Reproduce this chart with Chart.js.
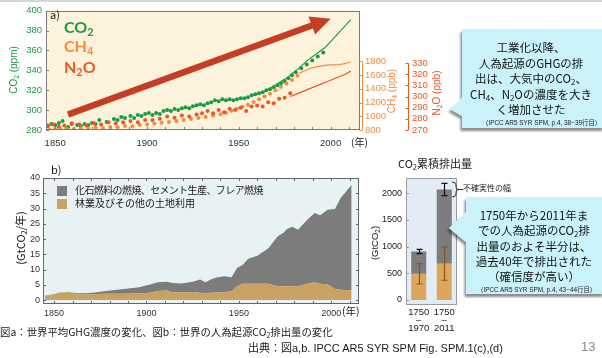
<!DOCTYPE html>
<html lang="ja">
<head>
<meta charset="utf-8">
<script src="https://cdn.jsdelivr.net/npm/chart.js@4.4.1/dist/chart.umd.min.js"></script>
<style>
  html, body { margin: 0; padding: 0; }
  body { width: 602px; height: 358px; position: relative; overflow: hidden; background: #fff;
         font-family: 'Noto Sans CJK JP', 'Liberation Sans', sans-serif; color: #1a1a1a; }
  canvas, svg, .t { position: absolute; }
  .t { white-space: nowrap; line-height: 1; }
  .rot { transform: translate(-50%, -50%) rotate(-90deg); }
  sub { font-size: 68%; vertical-align: -0.3em; line-height: 0; }
  .num { font-family: 'Liberation Sans', sans-serif; }
  .sq { position: absolute; width: 10px; height: 10px; }
  .call { position: absolute; text-align: center; font-size: 11.5px; color: #111; }
  .src { font-size: 6.4px; font-family: 'Liberation Sans', 'Noto Sans CJK JP', sans-serif; }
</style>
</head>
<body>
<div style="position:absolute;left:0;top:0;width:602px;height:2px;background:#d6d6d6"></div>

<canvas id="chartA" width="450" height="152" style="left:0;top:0"></canvas>
<canvas id="chartB" width="365" height="162" style="left:0;top:160px"></canvas>
<canvas id="chartC" width="100" height="190" style="left:360px;top:150px"></canvas>

<svg width="602" height="358" style="left:0;top:0">
  <defs>
    <filter id="sh" x="-20%" y="-20%" width="140%" height="150%">
      <feDropShadow dx="-1.5" dy="3" stdDeviation="1.2" flood-color="#000" flood-opacity="0.45"/>
    </filter>
  </defs>
  <path d="M462,29 H604 V128 H462 V116 L450,109 L462,98 Z" fill="#c9f3f9" filter="url(#sh)"/>
  <path d="M466,197 H604 V294 H466 V242 L449,228 L466,212 Z" fill="#c9f3f9" filter="url(#sh)"/>
  <path d="M452,182 Q456,182 456,185 L456,187 Q456,189.5 459,189.5 Q456,189.5 456,192 L456,194 Q456,197 452,197 M459,189.5 H463"
        fill="none" stroke="#222" stroke-width="0.9"/>
</svg>

<!-- panel a texts -->
<div class="t" style="left:50px;top:9px;font-size:11px">a)</div>
<div class="t" style="left:64px;top:17px;font:bold 16px Lato, sans-serif;color:#1a9b45">CO<sub>2</sub></div>
<div class="t" style="left:64px;top:36px;font:bold 16px Lato, sans-serif;color:#f68b3d">CH<sub>4</sub></div>
<div class="t" style="left:64px;top:57px;font:bold 16px Lato, sans-serif;color:#ee5722">N<sub>2</sub>O</div>
<div class="t rot num" style="left:14px;top:70px;font-size:10px;color:#1a9b45">CO<sub>2</sub> (ppm)</div>
<div class="t rot num" style="left:392px;top:91px;font-size:10px;color:#f68b3d">CH<sub>4</sub> (ppb)</div>
<div class="t rot num" style="left:437px;top:93px;font-size:10px;color:#ee5722">N<sub>2</sub>O (ppb)</div>
<div class="t" style="left:351px;top:137px;font-size:10px">(年)</div>

<!-- panel b texts -->
<div class="t" style="left:51px;top:164px;font-size:11px">b)</div>
<div class="sq" style="left:57px;top:186px;background:#7b7c7b"></div>
<div class="t" style="left:75px;top:185px;font-size:10px;letter-spacing:-0.6px">化石燃料の燃焼、セメント生産、フレア燃焼</div>
<div class="sq" style="left:57px;top:199px;background:#c9a261"></div>
<div class="t" style="left:75px;top:198px;font-size:10px">林業及びその他の土地利用</div>
<div class="t rot" style="left:20px;top:238px;font-size:11px">(GtCO<sub>2</sub>/年)</div>
<div class="t" style="left:342px;top:306px;font-size:10.5px">(年)</div>

<!-- panel c texts -->
<div class="t" style="left:398px;top:158px;font-size:11px">CO<sub>2</sub>累積排出量</div>
<div class="t rot num" style="left:375px;top:243px;font-size:9.5px">(GtCO<sub>2</sub>)</div>
<div class="t" style="left:463px;top:184px;font-size:8px">不確実性の幅</div>

<!-- callouts -->
<div class="call" style="left:462px;width:138px;top:40px;line-height:15.6px">
  工業化以降、<br>人為起源のGHGの排<br>出は、大気中のCO<sub>2</sub>、<br>CH<sub>4</sub>、N<sub>2</sub>Oの濃度を大き<br>く増加させた
</div>
<div class="t src" style="left:482px;top:120px">（IPCC AR5 SYR SPM, p.4, 38−39行目）</div>
<div class="call" style="left:466px;width:136px;top:208px;line-height:15.3px">
  1750年から2011年ま<br>での人為起源のCO<sub>2</sub>排<br>出量のおよそ半分は、<br>過去40年で排出された<br>（確信度が高い）
</div>
<div class="t src" style="left:477px;top:287px">（IPCC AR5 SYR SPM, p.4, 43−44行目）</div>

<!-- footer -->
<div class="t" style="left:0;top:327px;font-size:10.4px">図a：世界平均GHG濃度の変化、図b：世界の人為起源CO<sub>2</sub>排出量の変化</div>
<div class="t" style="left:248px;top:343px;font-size:11px;font-family:'Liberation Sans','Noto Sans CJK JP',sans-serif">出典：図a,b. IPCC AR5 SYR SPM Fig. SPM.1(c),(d)</div>
<div class="t" style="left:581px;top:340px;font-size:13px;color:#8c8c8c;font-family:'Liberation Sans',sans-serif">13</div>

<script>
// ---- a) atmospheric concentrations ----
const co2DotYears = [1846,1848,1850,1852,1854,1857,1859,1862,1864,1866,1868,1870,1872,1874,1878,1882,1884,1886,1888,1891,
  1893,1895,1897,1899,1901,1903,1905,1907,1909,1911,1913,1915,1917,1919,1921,1923,1925,1927,1929,1931,
  1933,1935,1937,1939,1941,1943,1945,1947,1949,1951,1953,1955,1957,1959,1961,1963,1965,1967,1969,1971,
  1973,1975,1977,1979,1981,1984,1987,1990,1993,1996];
const co2Dots = [284,286,285,287,289,283,286,285,284,286,285,287,286,290,288,291,290,293,292,294,
  292,295,294,296,297,295,297,296,299,300,299,301,300,302,303,302,304,305,306,305,
  307,308,310,309,311,310,311,310,311,312,312,313,315,316,317,318,320,321,323,325,
  327,329,332,335,338,342,346,350,354,358];
const co2LineYears = [1958,1961,1964,1967,1970,1973,1976,1979,1982,1985,1988,1991,1994,1997,2000,2003,2006,2009,2011];
const co2Line = [315,317,319,322,325,329,332,337,341,346,351,355,359,363,369,375,381,387,391];

const ch4DotYears = [1847,1850,1853,1856,1860,1864,1868,1872,1876,1880,1884,1888,1892,1896,1900,1904,1908,1912,1916,1920,
  1924,1928,1932,1936,1940,1943,1946,1949,1952,1955,1958,1961,1964,1967,1970,1973,1976,1979,1982];
const ch4Dots = [805,815,808,820,812,825,818,835,828,845,840,860,855,872,880,895,905,915,930,945,
  960,975,990,1010,1030,1050,1080,1110,1140,1170,1210,1250,1290,1330,1380,1430,1480,1530,1590];
const ch4LineYears = [1983,1986,1989,1992,1995,1998,2001,2004,2007,2010,2011];
const ch4Line = [1630,1665,1700,1720,1735,1745,1750,1752,1765,1785,1792];

const n2oDotYears = [1846,1849,1852,1855,1859,1863,1867,1871,1875,1879,1883,1887,1891,1895,1899,1903,1907,1911,1915,1919,
  1923,1927,1930,1933,1936,1939,1942,1945,1948,1951,1954,1957,1960,1963,1966,1969,1972,1975,1978];
const n2oDots = [274,275,273,274,276,275,274,276,275,277,276,277,278,277,279,279,280,282,281,283,
  282,284,285,287,285,288,286,289,288,290,287,291,292,291,295,294,298,299,303];
const n2oLineYears = [1978,1981,1984,1987,1990,1993,1996,1999,2002,2005,2008,2011];
const n2oLine = [300,302,304,306,308,310,312,314,316,318,320,323];

// ---- b) annual anthropogenic CO2 emissions (GtCO2/yr) ----
const emisYears = [1845,1850,1853,1858,1862,1867,1872,1878,1884,1889,1896,1902,1906,1911,1914,1919,1925,1929,1932,1935,
  1938,1942,1946,1949,1952,1955,1960,1966,1971,1974,1976,1979,1982,1987,1991,1994,1998,2002,2005,2008,2011];
const landUse = [1.5,1.7,2.4,2.6,1.8,1.8,2.0,2.1,2.1,2.1,2.2,2.4,3.0,3.1,2.5,2.5,2.6,2.4,2.2,2.4,
  2.5,2.6,2.8,4.5,5.3,5.3,5.3,5.3,4.6,4.5,4.5,4.5,4.5,5.3,5.8,5.3,5.2,3.6,3.4,3.3,3.1];
const fossilCO2 = [0.0,0.2,0.1,0.0,0.4,0.4,0.5,0.9,1.3,1.6,2.0,2.7,2.8,2.9,3.1,2.9,3.4,4.3,3.6,4.4,
  4.9,5.2,4.7,6.0,6.2,8.2,9.2,11.7,16.3,17.5,18.8,19.5,18.5,21.0,22.7,22.5,24.4,26.2,30.0,32.3,34.7];

// ---- cumulative CO2 emissions (GtCO2) ----
const periods = [['1750','–','1970'], ['1750','–','2011']];
const cumLand = [490, 680];
const cumFossil = [420, 1390];
const cumTotalErr = [40, 115];
const cumLandErr = [190, 310];

const GREEN = '#1a9b45', ORANGE = '#f68b3d', RED = '#ee5722';
const tickFont = { family: "'Liberation Sans',sans-serif", size: 9.5 };
const smallFont = { family: "'Liberation Sans',sans-serif", size: 9 };
const pts = (xs, ys) => xs.map((x, i) => ({ x: x, y: ys[i] }));
// explicit tick list lo..hi every step
const setTicks = (lo, hi, step) => s => {
  const t = [];
  for (let v = lo; v <= hi + 1e-9; v += step) t.push({ value: v });
  s.ticks = t;
};
const noGrid = { display: false, drawTicks: false };

// plot background, frame and inside tick marks
const framePlugin = {
  id: 'frame',
  beforeDraw(chart, args, o) {
    const { ctx, chartArea: a } = chart;
    ctx.save();
    ctx.fillStyle = o.bg;
    ctx.fillRect(a.left, a.top, a.width, a.height);
    ctx.restore();
  },
  afterDraw(chart, args, o) {
    const { ctx, chartArea: a, scales } = chart;
    const L = 3;
    ctx.save();
    ctx.strokeStyle = o.color;
    ctx.lineWidth = 1;
    ctx.strokeRect(Math.round(a.left) + 0.5, Math.round(a.top) + 0.5, Math.round(a.width) - 1, Math.round(a.height) - 1);
    ctx.beginPath();
    if (o.xMinor) {
      const xs = scales.x;
      for (let v = Math.ceil(xs.min / o.xMinor) * o.xMinor; v <= xs.max; v += o.xMinor) {
        const px = Math.round(xs.getPixelForValue(v)) + 0.5;
        ctx.moveTo(px, a.bottom); ctx.lineTo(px, a.bottom - L);
        if (o.topTicks) { ctx.moveTo(px, a.top); ctx.lineTo(px, a.top + L); }
      }
    }
    if (o.yScale) {
      const ys = scales[o.yScale];
      ys.ticks.forEach(t => {
        const py = Math.round(ys.getPixelForValue(t.value)) + 0.5;
        ctx.moveTo(a.left, py); ctx.lineTo(a.left + L, py);
        if (o.rightTicks) { ctx.moveTo(a.right, py); ctx.lineTo(a.right - L, py); }
      });
    }
    ctx.stroke();
    ctx.restore();
  }
};

// coloured side axes that stop at the last tick
const sideAxisPlugin = {
  id: 'sideAxes',
  afterDraw(chart, args, o) {
    const ctx = chart.ctx;
    o.axes.forEach(ax => {
      const s = chart.scales[ax.id];
      const x = Math.round(s.left + ax.offset) + 0.5;
      const last = s.ticks[s.ticks.length - 1].value;
      ctx.save();
      ctx.strokeStyle = ax.color;
      ctx.lineWidth = 1;
      ctx.beginPath();
      ctx.moveTo(x, s.getPixelForValue(s.min));
      ctx.lineTo(x, s.getPixelForValue(last));
      s.ticks.forEach(t => {
        const py = Math.round(s.getPixelForValue(t.value)) + 0.5;
        ctx.moveTo(x, py); ctx.lineTo(x - 3, py);
      });
      ctx.stroke();
      ctx.restore();
    });
  }
};

// the big trend arrow, given in data units
const arrowPlugin = {
  id: 'arrow',
  beforeDatasetsDraw(chart, args, o) {
    const ctx = chart.ctx, xs = chart.scales.x, ys = chart.scales[o.yAxis];
    const x0 = xs.getPixelForValue(o.from[0]), y0 = ys.getPixelForValue(o.from[1]);
    const x1 = xs.getPixelForValue(o.to[0]), y1 = ys.getPixelForValue(o.to[1]);
    const len = Math.hypot(x1 - x0, y1 - y0);
    const ux = (x1 - x0) / len, uy = (y1 - y0) / len, nx = -uy, ny = ux;
    const sw = o.shaft / 2, hw = o.headWidth / 2;
    const bx = x1 - ux * o.headLength, by = y1 - uy * o.headLength;
    ctx.save();
    ctx.fillStyle = o.color;
    ctx.beginPath();
    ctx.moveTo(x0 + nx * sw, y0 + ny * sw);
    ctx.lineTo(bx + nx * sw, by + ny * sw);
    ctx.lineTo(bx + nx * hw, by + ny * hw);
    ctx.lineTo(x1, y1);
    ctx.lineTo(bx - nx * hw, by - ny * hw);
    ctx.lineTo(bx - nx * sw, by - ny * sw);
    ctx.lineTo(x0 - nx * sw, y0 - ny * sw);
    ctx.closePath();
    ctx.fill();
    ctx.restore();
  }
};

// error bars for the cumulative bars
const errorBarPlugin = {
  id: 'errBars',
  afterDatasetsDraw(chart, args, o) {
    const ctx = chart.ctx, xs = chart.scales.x, ys = chart.scales.y;
    o.sets.forEach(set => {
      ctx.save();
      ctx.strokeStyle = set.color;
      ctx.lineWidth = 1.2;
      set.centers.forEach((c, i) => {
        const x = Math.round(xs.getPixelForValue(i)) + 0.5;
        const top = ys.getPixelForValue(c + set.errors[i]);
        const bot = ys.getPixelForValue(c - set.errors[i]);
        ctx.beginPath();
        ctx.moveTo(x, top); ctx.lineTo(x, bot);
        ctx.moveTo(x - 3, top); ctx.lineTo(x + 3, top);
        ctx.moveTo(x - 3, bot); ctx.lineTo(x + 3, bot);
        ctx.stroke();
      });
      ctx.restore();
    });
  }
};

document.addEventListener('DOMContentLoaded', function() {
  Chart.defaults.font.family = tickFont.family;

  // a) concentrations
  new Chart(document.getElementById('chartA'), {
    type: 'scatter',
    data: {
      datasets: [
        { data: pts(n2oDotYears, n2oDots), yAxisID: 'yN2O', backgroundColor: RED, pointRadius: 2, borderWidth: 0 },
        { type: 'line', data: pts(n2oLineYears, n2oLine), yAxisID: 'yN2O', borderColor: RED, borderWidth: 1.2, pointRadius: 0, fill: false },
        { data: pts(ch4DotYears, ch4Dots), yAxisID: 'yCH4', backgroundColor: ORANGE, pointRadius: 2, borderWidth: 0 },
        { type: 'line', data: pts(ch4LineYears, ch4Line), yAxisID: 'yCH4', borderColor: ORANGE, borderWidth: 1.2, pointRadius: 0, fill: false },
        { data: pts(co2DotYears, co2Dots), yAxisID: 'yCO2', backgroundColor: GREEN, pointRadius: 2, borderWidth: 0 },
        { type: 'line', data: pts(co2LineYears, co2Line), yAxisID: 'yCO2', borderColor: GREEN, borderWidth: 1.1, pointRadius: 0, fill: false }
      ]
    },
    options: {
      responsive: false,
      animation: false,
      layout: { padding: { top: 7 } },
      plugins: {
        legend: { display: false },
        tooltip: { enabled: false },
        frame: { bg: '#fdf3dc', color: '#7a7a7a', xMinor: 10, yScale: 'yCO2' },
        sideAxes: { axes: [{ id: 'yCH4', offset: 2, color: ORANGE }, { id: 'yN2O', offset: 0, color: RED }] },
        arrow: { yAxis: 'yCO2', from: [1857, 295.6], to: [2000, 392], shaft: 6.5, headWidth: 19, headLength: 20, color: '#c53d25' }
      },
      scales: {
        x: {
          type: 'linear', min: 1845, max: 2016,
          afterBuildTicks: setTicks(1850, 2000, 50),
          afterFit: s => { s.height = 22; },
          grid: noGrid, border: { display: false },
          ticks: { padding: 8, color: '#333', font: tickFont, maxRotation: 0, autoSkip: false, callback: v => String(v) }
        },
        yCO2: {
          position: 'left', min: 280, max: 400,
          afterBuildTicks: setTicks(280, 400, 20),
          afterFit: s => { s.width = 46; },
          grid: noGrid, border: { display: false },
          ticks: { padding: 4, color: GREEN, font: tickFont, autoSkip: false, callback: v => String(v) }
        },
        yCH4: {
          position: 'right', weight: 0, min: 800, max: 2540,
          afterBuildTicks: setTicks(800, 1800, 200),
          afterFit: s => { s.width = 48; },
          grid: noGrid, border: { display: false },
          ticks: { padding: 5, color: ORANGE, font: tickFont, autoSkip: false, callback: v => String(v) }
        },
        yN2O: {
          position: 'right', weight: 1, min: 270, max: 377,
          afterBuildTicks: setTicks(270, 330, 10),
          afterFit: s => { s.width = 42; },
          grid: noGrid, border: { display: false },
          ticks: { padding: 4, color: RED, font: tickFont, autoSkip: false, callback: v => String(v) }
        }
      }
    },
    plugins: [framePlugin, sideAxisPlugin, arrowPlugin]
  });

  // b) annual emissions, stacked areas
  new Chart(document.getElementById('chartB'), {
    type: 'line',
    data: {
      datasets: [
        { label: '林業及びその他の土地利用', data: pts(emisYears, landUse), backgroundColor: '#c9a261',
          borderWidth: 0, pointRadius: 0, fill: 'origin' },
        { label: '化石燃料の燃焼、セメント生産、フレア燃焼', data: pts(emisYears, fossilCO2), backgroundColor: '#7b7c7b',
          borderWidth: 0, pointRadius: 0, fill: '-1' }
      ]
    },
    options: {
      responsive: false,
      animation: false,
      layout: { padding: { top: 18, right: 6 } },
      plugins: {
        legend: { display: false },
        tooltip: { enabled: false },
        frame: { bg: '#e8f1f3', color: '#666', xMinor: 10, topTicks: true, yScale: 'y', rightTicks: true }
      },
      scales: {
        x: {
          type: 'linear', min: 1844, max: 2015,
          afterBuildTicks: setTicks(1850, 2000, 50),
          afterFit: s => { s.height = 18; },
          grid: noGrid, border: { display: false },
          ticks: { padding: 4, color: '#333', font: smallFont, maxRotation: 0, autoSkip: false, callback: v => String(v) }
        },
        y: {
          stacked: true, min: -1.3, max: 40,
          afterBuildTicks: setTicks(0, 40, 5),
          afterFit: s => { s.width = 43; },
          grid: noGrid, border: { display: false },
          ticks: { padding: 3, color: '#333', font: smallFont, autoSkip: false, callback: v => String(v) }
        }
      }
    },
    plugins: [framePlugin]
  });

  // cumulative emissions bars
  const cumTotal = cumLand.map((v, i) => v + cumFossil[i]);
  new Chart(document.getElementById('chartC'), {
    type: 'bar',
    data: {
      labels: periods,
      datasets: [
        { data: cumLand, backgroundColor: '#dca65c', barPercentage: 0.59, categoryPercentage: 1 },
        { data: cumFossil, backgroundColor: '#7b7c7b', barPercentage: 0.59, categoryPercentage: 1 }
      ]
    },
    options: {
      responsive: false,
      animation: false,
      layout: { padding: { top: 28, right: 3 } },
      plugins: {
        legend: { display: false },
        tooltip: { enabled: false },
        frame: { bg: '#e3ecf6', color: '#9a9a9a', yScale: 'y' },
        errBars: { sets: [
          { centers: cumTotal, errors: cumTotalErr, color: '#111' },
          { centers: cumLand, errors: cumLandErr, color: '#8a5426' }
        ] }
      },
      scales: {
        x: {
          stacked: true,
          afterFit: s => { s.height = 35; },
          grid: noGrid, border: { display: false },
          ticks: { padding: 3, color: '#222', font: Object.assign({}, tickFont, { lineHeight: 0.85 }), maxRotation: 0, autoSkip: false }
        },
        y: {
          stacked: true, min: -94, max: 2287,
          afterBuildTicks: setTicks(0, 2000, 500),
          afterFit: s => { s.width = 46; },
          grid: noGrid, border: { display: false },
          ticks: { padding: 4, color: '#222', font: smallFont, autoSkip: false, callback: v => String(v) }
        }
      }
    },
    plugins: [framePlugin, errorBarPlugin]
  });
});
</script>
</body>
</html>
